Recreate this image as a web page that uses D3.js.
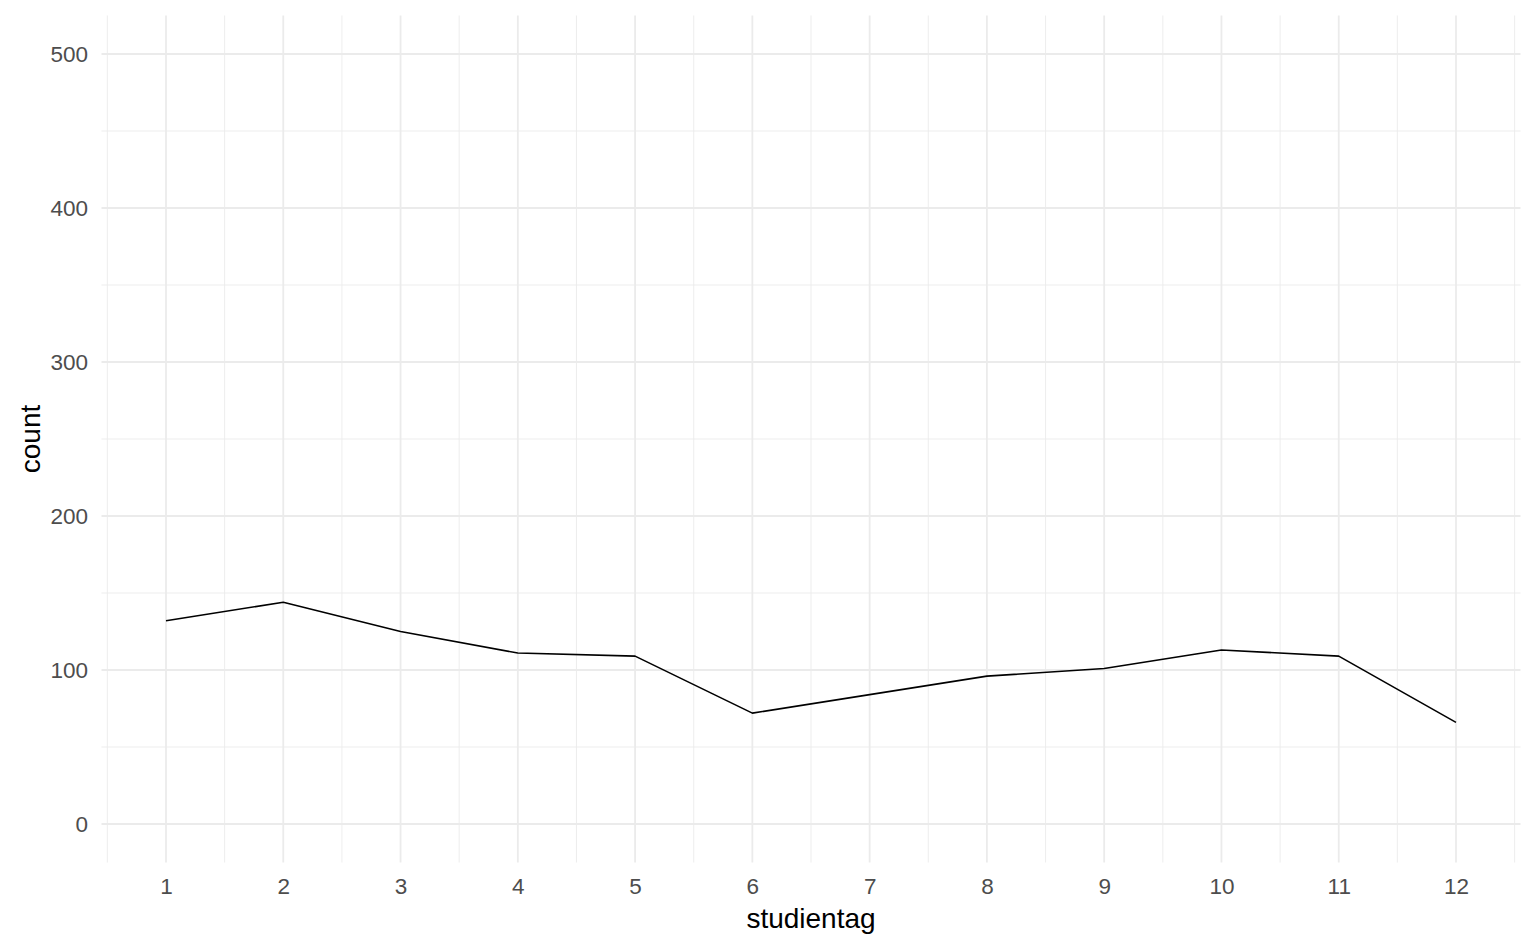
<!DOCTYPE html>
<html><head><meta charset="utf-8">
<script src="https://cdn.jsdelivr.net/npm/d3@7/dist/d3.min.js"></script>
<style>body{margin:0;background:#fff;}svg{display:block;font-family:"Liberation Sans",Arial,sans-serif;}</style>
</head><body>
<svg id="c" width="1536" height="949"></svg>
<script>
const studientag = [1,2,3,4,5,6,7,8,9,10,11,12];
const counts = [132,144,125,111,109,72,84,96,101,113,109,66];
const yTicks = [0,100,200,300,400,500];
const yMinor = [50,150,250,350,450];
const xMinor = [0.5,1.5,2.5,3.5,4.5,5.5,6.5,7.5,8.5,9.5,10.5,11.5,12.5];

const svg = d3.select("#c");
const panel = {left:101.5, right:1520.5, top:15.5, bottom:862.5};
const x = d3.scaleLinear().domain([0.45,12.55]).range([panel.left, panel.right]);
const y = d3.scaleLinear().domain([-25,525]).range([panel.bottom, panel.top]);

const g = svg.append("g");
// minor grid
g.selectAll(".ymin").data(yMinor).enter().append("line")
  .attr("x1",panel.left).attr("x2",panel.right).attr("y1",d=>y(d)).attr("y2",d=>y(d))
  .attr("stroke","#EBEBEB").attr("stroke-width",0.9);
g.selectAll(".xmin").data(xMinor).enter().append("line")
  .attr("y1",panel.top).attr("y2",panel.bottom).attr("x1",d=>x(d)).attr("x2",d=>x(d))
  .attr("stroke","#EBEBEB").attr("stroke-width",0.9);
// major grid
g.selectAll(".ymaj").data(yTicks).enter().append("line")
  .attr("x1",panel.left).attr("x2",panel.right).attr("y1",d=>y(d)).attr("y2",d=>y(d))
  .attr("stroke","#EBEBEB").attr("stroke-width",1.8);
g.selectAll(".xmaj").data(studientag).enter().append("line")
  .attr("y1",panel.top).attr("y2",panel.bottom).attr("x1",d=>x(d)).attr("x2",d=>x(d))
  .attr("stroke","#EBEBEB").attr("stroke-width",1.8);

// line
const line = d3.line().x((d,i)=>x(studientag[i])).y(d=>y(d));
g.append("path").datum(counts).attr("d",line).attr("fill","none")
  .attr("stroke","#000").attr("stroke-width",1.6).attr("stroke-linejoin","round");

// axes labels
const yAxis = d3.axisLeft(y).tickValues(yTicks).tickSize(0).tickPadding(0);
const ya = svg.append("g").attr("transform",`translate(88,0)`).call(yAxis);
ya.select(".domain").remove();
ya.selectAll("text").attr("font-size",22.5).attr("fill","#4D4D4D").attr("font-family","Liberation Sans, Arial, sans-serif");

const xAxis = d3.axisBottom(x).tickValues(studientag).tickSize(0).tickPadding(0);
const xa = svg.append("g").attr("transform",`translate(0,878)`).call(xAxis);
xa.select(".domain").remove();
xa.selectAll("text").attr("font-size",22.5).attr("fill","#4D4D4D").attr("font-family","Liberation Sans, Arial, sans-serif");

svg.append("text").attr("x",(panel.left+panel.right)/2).attr("y",928)
  .attr("text-anchor","middle").attr("font-size",28).attr("fill","#000").text("studientag");
svg.append("text").attr("transform",`translate(39.5,${(panel.top+panel.bottom)/2}) rotate(-90)`)
  .attr("text-anchor","middle").attr("font-size",28).attr("fill","#000").text("count");
</script>
</body></html>
